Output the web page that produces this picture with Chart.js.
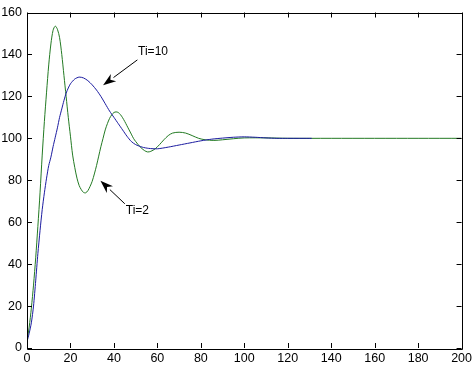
<!DOCTYPE html>
<html>
<head>
<meta charset="utf-8">
<script src="https://cdn.jsdelivr.net/npm/chart.js@4.4.1/dist/chart.umd.min.js"></script>
<style>
    html, body { margin: 0; padding: 0; background: #ffffff; }
    #wrap { width: 475px; height: 370px; }
</style>
</head>
<body>
<div id="wrap"><canvas id="grafico" width="475" height="370"></canvas></div>
<script>
// tempo e risposta per Ti=2 (verde)
const tempoTi2 = [0, 1, 2, 3, 4, 5, 6, 7, 8, 9, 10, 11, 12, 13, 14, 15, 16, 17, 18, 19,
    20, 21, 22, 23, 24, 25, 26, 27, 28, 29, 30, 31, 32, 33, 34, 35, 36, 37, 38, 39,
    40, 41, 42, 43, 44, 45, 46, 47, 48, 49, 50, 52, 54, 55.5, 57, 59, 61, 63, 65, 67,
    70, 73, 76, 79, 82, 86, 90, 95, 100, 110, 120, 140, 160, 180, 200];
const rispostaTi2 = [3, 10, 19, 30, 43, 58, 74, 92, 108, 122, 135, 145, 151.5, 153.5, 152, 148, 140, 130, 120, 110,
    101, 92, 86, 81, 77.5, 75.5, 74.2, 74, 75, 77, 79.5, 83, 87, 91.5, 96, 100, 104, 107, 109.5, 111.2,
    112.3, 112.6, 112.3, 111.3, 109.8, 108, 106, 104, 102, 100, 98.5, 96, 94.2, 93.5, 93.8, 95, 97, 99.3, 101.3, 102.5,
    102.9, 102.5, 101.3, 100, 99.3, 99, 99.3, 99.8, 100.2, 100.2, 100, 100, 100, 100, 100];

// tempo e risposta per Ti=10 (blu)
const tempoTi10 = [0, 1, 2, 3, 4, 5, 6, 7, 8, 9, 10, 11, 12, 13, 14, 15, 16, 17, 18, 19,
    20, 22, 24, 26, 28, 30, 32, 34, 36, 38, 40, 42, 44, 46, 48, 50, 53, 56, 60, 65,
    70, 75, 80, 85, 90, 95, 100, 105, 110, 115, 120, 131];
const rispostaTi10 = [3, 7, 12, 20, 32, 45, 56, 66, 74, 81, 87, 91, 96, 100.5, 105, 110, 114, 118, 121.5, 124,
    126, 128.3, 129.2, 128.8, 127.5, 125.5, 123, 120, 116.5, 113, 110, 107, 104, 101, 98.5, 97, 95.8, 95.2, 95, 95.8,
    96.8, 97.8, 98.8, 99.6, 100.1, 100.5, 100.7, 100.5, 100.2, 100, 100, 100];

const tickX = [0, 20, 40, 60, 80, 100, 120, 140, 160, 180, 200];
const tickY = [0, 20, 40, 60, 80, 100, 120, 140, 160];

// etichette con freccia: testo, posizione testo, coda e punta della freccia (coordinate dati)
const etichette = [
    { testo: "Ti=10", tx: 58, ty: 141.2, coda: [50.8, 137.4], punta: [35, 125.3] },
    { testo: "Ti=2", tx: 50.8, ty: 65.3, coda: [45, 68.8], punta: [33.8, 79.8] }
];

function creaPunti(xs, ys) {
    return xs.map((x, i) => ({ x: x, y: ys[i] }));
}

const cornice = {
    id: "cornice",
    afterDraw(chart) {
        const ctx = chart.ctx;
        const a = chart.chartArea;
        const sx = chart.scales.x;
        const sy = chart.scales.y;
        const lung = 5;

        ctx.save();
        ctx.strokeStyle = "#000000";
        ctx.lineWidth = 1;
        ctx.beginPath();
        ctx.rect(Math.round(a.left) + 0.5, Math.round(a.top) + 0.5,
            Math.round(a.right - a.left), Math.round(a.bottom - a.top));
        ctx.stroke();

        ctx.beginPath();
        tickX.forEach((v) => {
            const px = Math.round(sx.getPixelForValue(v)) + 0.5;
            ctx.moveTo(px, a.bottom);
            ctx.lineTo(px, a.bottom - lung);
            ctx.moveTo(px, a.top);
            ctx.lineTo(px, a.top + lung);
        });
        tickY.forEach((v) => {
            const py = Math.round(sy.getPixelForValue(v)) + 0.5;
            ctx.moveTo(a.left, py);
            ctx.lineTo(a.left + lung, py);
            ctx.moveTo(a.right, py);
            ctx.lineTo(a.right - lung, py);
        });
        ctx.stroke();

        ctx.fillStyle = "#000000";
        ctx.font = "12px 'Liberation Sans', Arial, sans-serif";
        ctx.textAlign = "center";
        ctx.textBaseline = "middle";
        etichette.forEach((e) => {
            ctx.fillText(e.testo, sx.getPixelForValue(e.tx), sy.getPixelForValue(e.ty));

            const x0 = sx.getPixelForValue(e.coda[0]);
            const y0 = sy.getPixelForValue(e.coda[1]);
            const x1 = sx.getPixelForValue(e.punta[0]);
            const y1 = sy.getPixelForValue(e.punta[1]);
            const ang = Math.atan2(y1 - y0, x1 - x0);
            const lt = 13;
            const mezzo = 4.5;
            const bx = x1 - lt * Math.cos(ang);
            const by = y1 - lt * Math.sin(ang);

            ctx.beginPath();
            ctx.moveTo(x0, y0);
            ctx.lineTo(bx, by);
            ctx.stroke();

            ctx.beginPath();
            ctx.moveTo(x1, y1);
            ctx.lineTo(bx + mezzo * Math.sin(ang), by - mezzo * Math.cos(ang));
            ctx.lineTo(x1 - lt * 0.7 * Math.cos(ang), y1 - lt * 0.7 * Math.sin(ang));
            ctx.lineTo(bx - mezzo * Math.sin(ang), by + mezzo * Math.cos(ang));
            ctx.closePath();
            ctx.fill();
        });
        ctx.restore();
    }
};

function generaGrafico() {
    const ctx = document.getElementById("grafico").getContext("2d");

    new Chart(ctx, {
        type: "line",
        data: {
            datasets: [
                {
                    label: "Ti=10",
                    data: creaPunti(tempoTi10, rispostaTi10),
                    borderColor: "#1c1ca0",
                    borderWidth: 1,
                    pointRadius: 0,
                    fill: false,
                    tension: 0.25
                },
                {
                    label: "Ti=2",
                    data: creaPunti(tempoTi2, rispostaTi2),
                    borderColor: "#237a23",
                    borderWidth: 1,
                    pointRadius: 0,
                    fill: false,
                    tension: 0.3
                }
            ]
        },
        options: {
            responsive: false,
            animation: false,
            layout: {
                padding: { top: 6, right: 13, left: 0, bottom: 0 }
            },
            plugins: {
                legend: { display: false },
                tooltip: { enabled: false }
            },
            scales: {
                x: {
                    type: "linear",
                    min: 0,
                    max: 200,
                    afterFit: (s) => { s.height = 22; },
                    afterBuildTicks: (s) => { s.ticks = tickX.map((v) => ({ value: v })); },
                    grid: { display: false, drawTicks: false },
                    border: { display: false },
                    ticks: {
                        padding: 3,
                        color: "#000000",
                        font: { family: "'Liberation Sans', Arial, sans-serif", size: 12.5 }
                    }
                },
                y: {
                    type: "linear",
                    min: 0,
                    max: 160,
                    afterFit: (s) => { s.width = 27; },
                    afterBuildTicks: (s) => { s.ticks = tickY.map((v) => ({ value: v })); },
                    grid: { display: false, drawTicks: false },
                    border: { display: false },
                    ticks: {
                        padding: 5,
                        color: "#000000",
                        font: { family: "'Liberation Sans', Arial, sans-serif", size: 12.5 }
                    }
                }
            }
        },
        plugins: [cornice]
    });
}

generaGrafico();
</script>
</body>
</html>
